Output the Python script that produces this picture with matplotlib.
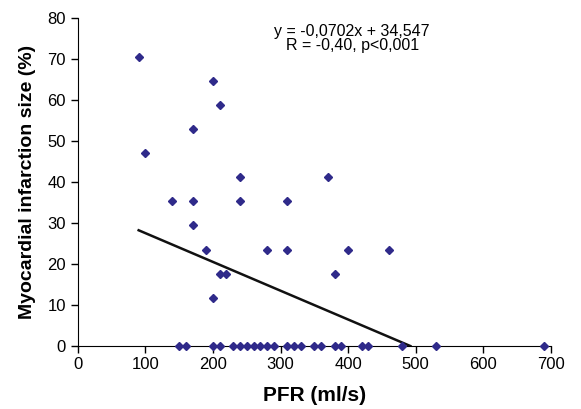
import matplotlib
matplotlib.use("Agg")
import matplotlib.pyplot as plt
import numpy as np

plt.rcParams['font.family'] = ['Liberation Sans', 'DejaVu Sans']

# PFR (ml/s) and infarction size (%)
pfr_pos = [90, 100, 140, 170, 170, 170, 190, 200, 200, 210, 210, 220,
           240, 240, 280, 310, 310, 370, 380, 400, 460]
size_pos = [70.6, 47.1, 35.3, 52.9, 35.3, 29.4, 23.5, 11.8, 64.7, 58.8, 17.6, 17.6,
            41.2, 35.3, 23.5, 35.3, 23.5, 41.2, 17.6, 23.5, 23.5]
pfr_zero = [150, 160, 200, 210, 230, 240, 250, 260, 270, 280, 290, 310,
            320, 330, 350, 360, 380, 390, 420, 430, 480, 530, 690]

slope = -0.0702
intercept = 34.547
fit_x = [90, -intercept / slope]

x_ticks = list(range(0, 701, 100))
y_ticks = list(range(0, 81, 10))

fig = plt.figure(figsize=(5.81, 4.09), dpi=100)
ax = fig.add_axes([0.134, 0.154, 0.814, 0.802])

pfr = pfr_pos + pfr_zero
size = size_pos + [0] * len(pfr_zero)
ax.plot(pfr, size, ls='none', marker='D', ms=4.5, color='#2f2a8a',
        clip_on=False, zorder=3)

ax.plot(fit_x, [slope * v + intercept for v in fit_x], color='#111111',
        lw=1.8, zorder=2)

ax.set_xlim(0, 700)
ax.set_ylim(0, 80)
ax.set_xticks(x_ticks)
ax.set_yticks(y_ticks)
ax.spines['top'].set_visible(False)
ax.spines['right'].set_visible(False)
ax.tick_params(axis='both', labelsize=12, direction='out', length=5, width=1)
ax.tick_params(axis='x', pad=3)

ax.set_xlabel('PFR (ml/s)', fontsize=15, fontweight='bold', labelpad=10)
ax.set_ylabel('Myocardial infarction size (%)', fontsize=14, fontweight='bold',
              labelpad=8)

ax.text(0.58, 0.9375, 'y = -0,0702x + 34,547\nR = -0,40, p<0,001',
        transform=ax.transAxes, ha='center', va='center',
        multialignment='center', fontsize=11.5, linespacing=0.85)

fig.savefig('out.png', dpi=100)
